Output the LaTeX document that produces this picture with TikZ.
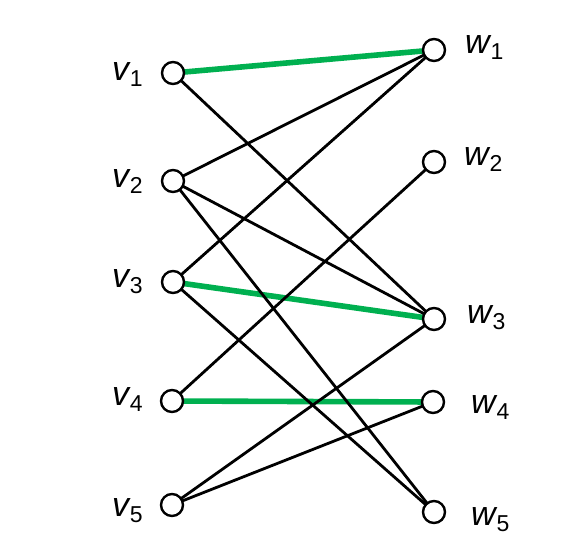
\documentclass[tikz,border=0pt]{standalone}
\usepackage{fontspec}
\setmainfont{Liberation Sans}
\definecolor{matchgreen}{RGB}{0,176,80}
\newcommand{\lbl}[2]{\textit{#1}\kern-1pt\raisebox{-6pt}{\fontsize{23}{23}\selectfont #2}}
\begin{document}
\begin{tikzpicture}[x=1pt,y=-1pt,
  vert/.style={circle,draw=black,fill=white,line width=2.4pt,minimum size=22pt,inner sep=0pt},
  edge/.style={black,line width=2.8pt},
  matched/.style={matchgreen,line width=5.6pt},
  lab/.style={anchor=base west,inner sep=0pt,font=\fontsize{34}{34}\selectfont}]
\useasboundingbox (0,0) rectangle (570,555);
\coordinate (v1) at (173,73);
\coordinate (v2) at (173,181);
\coordinate (v3) at (173,282);
\coordinate (v4) at (172,401);
\coordinate (v5) at (172,505);
\coordinate (w1) at (434,50);
\coordinate (w2) at (434,162);
\coordinate (w3) at (434,319);
\coordinate (w4) at (433,402);
\coordinate (w5) at (434,512);
% matching edges
\draw[matched] (v1) -- (w1);
\draw[matched] (v3) -- (w3);
\draw[matched] (v4) -- (w4);
% other edges
\draw[edge] (v1) -- (w3);
\draw[edge] (v2) -- (w1);
\draw[edge] (v2) -- (w3);
\draw[edge] (v2) -- (w5);
\draw[edge] (v3) -- (w1);
\draw[edge] (v3) -- (w5);
\draw[edge] (v4) -- (w2);
\draw[edge] (v5) -- (w3);
\draw[edge] (v5) -- (w4);
% vertices
\foreach \n in {v1,v2,v3,v4,v5,w1,w2,w3,w4,w5} \node[vert] (n\n) at (\n) {};
% labels
\node[lab] (lv1) at (112,80) {\lbl{v}{1}};
\node[lab] (lv2) at (112,187) {\lbl{v}{2}};
\node[lab] (lv3) at (112,287) {\lbl{v}{3}};
\node[lab] (lv4) at (112,405) {\lbl{v}{4}};
\node[lab] (lv5) at (112,516) {\lbl{v}{5}};
\node[lab] (lw1) at (465,53) {\lbl{w}{1}};
\node[lab] (lw2) at (464,165) {\lbl{w}{2}};
\node[lab] (lw3) at (467,323) {\lbl{w}{3}};
\node[lab] (lw4) at (471,413) {\lbl{w}{4}};
\node[lab] (lw5) at (471,525) {\lbl{w}{5}};
\end{tikzpicture}
\end{document}
